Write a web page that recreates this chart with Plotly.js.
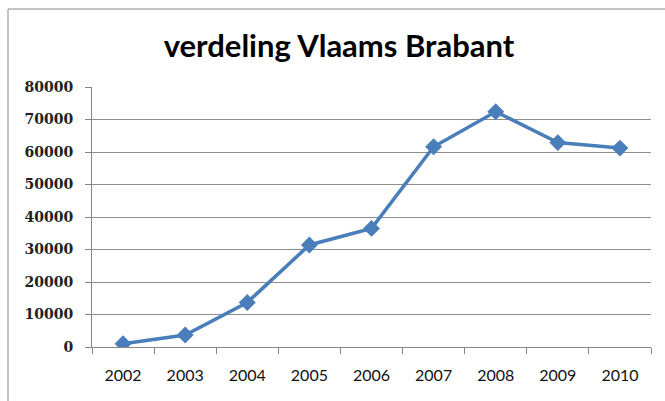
<!DOCTYPE html>
<html>
<head>
<meta charset="utf-8">
<script src="https://cdn.plot.ly/plotly-3.0.1.min.js"></script>
<style>
  html, body { margin: 0; padding: 0; background: #fff; }
  #chart { width: 665px; height: 401px; }
</style>
</head>
<body>
<div id="chart"></div>
<script>
const years = ["2002", "2003", "2004", "2005", "2006", "2007", "2008", "2009", "2010"];
const values = [1000, 3700, 13700, 31400, 36500, 61600, 72400, 62900, 61200];
const yTicks = [0, 10000, 20000, 30000, 40000, 50000, 60000, 70000, 80000];
const chartTitle = "verdeling Vlaams Brabant";

const trace = {
  x: years,
  y: values,
  type: "scatter",
  mode: "lines+markers",
  line: { color: "#4a7ebb", width: 3.5 },
  marker: { symbol: "diamond", size: 13, color: "#4a7ebb" },
  hoverinfo: "x+y"
};

const pl = 92, pr = 651, pt = 87, pb = 347;
const W = 665, H = 401;

const layout = {
  width: W, height: H,
  margin: { l: pl, r: W - pr, t: pt, b: H - pb },
  paper_bgcolor: "#ffffff",
  plot_bgcolor: "#ffffff",
  showlegend: false,
  title: {
    text: chartTitle,
    font: { family: "Lato, 'Open Sans', sans-serif", size: 31, color: "#000000", weight: "bold" },
    xref: "container", x: 339 / W, xanchor: "center",
    y: 1 - 46 / H, yanchor: "middle"
  },
  xaxis: {
    type: "category",
    range: [-0.5, 8.5],
    showgrid: false,
    showline: true,
    linecolor: "#868686",
    linewidth: 1,
    ticks: "outside",
    tickson: "boundaries",
    ticklen: 6,
    tickcolor: "#868686",
    ticklabelstandoff: 14,
    tickfont: { family: "Lato, 'Open Sans', sans-serif", size: 16, color: "#111111" },
    zeroline: false,
    fixedrange: true
  },
  yaxis: {
    range: [0, 80000],
    tickvals: yTicks,
    ticktext: yTicks.map(String),
    showgrid: true,
    gridcolor: "#8c8c8c",
    gridwidth: 1,
    showline: true,
    linecolor: "#868686",
    ticks: "outside",
    ticklen: 6,
    tickcolor: "#868686",
    ticklabelstandoff: 9,
    tickfont: { family: "'DejaVu Serif', 'Liberation Serif', serif", size: 14, color: "#222222", weight: "bold" },
    zeroline: false,
    fixedrange: true
  },
  shapes: [
    {
      type: "line", xref: "paper", yref: "paper",
      x0: (8 - pl) / (pr - pl), x1: (8 - pl) / (pr - pl),
      y0: (pb - 9) / (pb - pt), y1: (pb - 410) / (pb - pt),
      line: { color: "#8a8a8a", width: 1 }
    },
    {
      type: "line", xref: "paper", yref: "paper",
      x0: (8 - pl) / (pr - pl), x1: (670 - pl) / (pr - pl),
      y0: (pb - 9) / (pb - pt), y1: (pb - 9) / (pb - pt),
      line: { color: "#8a8a8a", width: 1 }
    }
  ]
};

Plotly.newPlot("chart", [trace], layout, { displayModeBar: false, staticPlot: true });
</script>
</body>
</html>
